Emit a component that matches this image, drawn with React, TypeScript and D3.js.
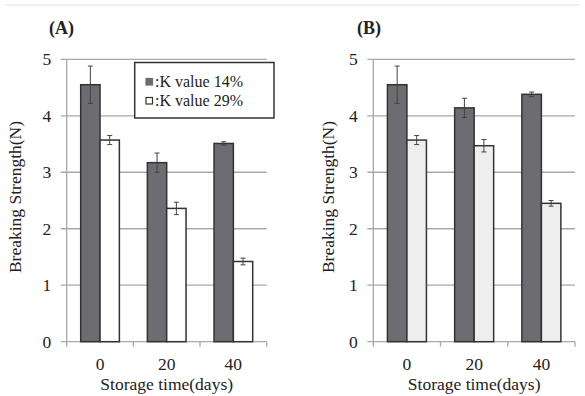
import React from "react";
import * as d3 from "d3";

const categories = ["0", "20", "40"];
const seriesNames = ["K value 14%", "K value 29%"];
const aDark = [4.55, 3.17, 3.51];
const aDarkErr = [0.33, 0.17, 0.03];
const aLight = [3.57, 2.36, 1.42];
const aLightErr = [0.08, 0.11, 0.06];
const bDark = [4.55, 4.14, 4.38];
const bDarkErr = [0.33, 0.17, 0.04];
const bLight = [3.57, 3.47, 2.45];
const bLightErr = [0.08, 0.11, 0.05];
const yTicks = [0, 1, 2, 3, 4, 5];

const FONT = "Liberation Serif";

type PanelProps = {
  x0: number;
  x1: number;
  title: string;
  titleX: number;
  labelX: number;
  dark: number[];
  darkErr: number[];
  light: number[];
  lightErr: number[];
  lightFill: string;
  legend?: boolean;
};

function Panel(p: PanelProps) {
  const y = d3.scaleLinear().domain([0, 5]).range([341.7, 59.3]);
  const x = d3.scaleBand().domain(categories).range([p.x0, p.x1]).paddingInner(0).paddingOuter(0);
  const bw = x.bandwidth() * 0.29;
  const series = [
    { vals: p.dark, errs: p.darkErr, fill: "#6c6c71" },
    { vals: p.light, errs: p.lightErr, fill: p.lightFill },
  ];
  return (
    <g>
      <text x={p.titleX} y={34} fontFamily={FONT} fontWeight="bold" fontSize={18} fill="#222">
        {p.title}
      </text>
      {yTicks.map((t) => (
        <g key={t}>
          <line x1={p.x0 - 6} x2={p.x1} y1={y(t)} y2={y(t)} stroke="#a8a8a8" strokeWidth={1.3} />
          <text x={p.x0 - 15.5} y={y(t) + 6} textAnchor="end" fontFamily={FONT} fontSize={17.5} fill="#222">
            {t}
          </text>
        </g>
      ))}
      <line x1={p.x0} x2={p.x0} y1={y(5)} y2={y(0)} stroke="#a8a8a8" strokeWidth={1.3} />
      {[...categories.map((c) => x(c) as number), p.x1].map((v, i) => (
        <line key={i} x1={v} x2={v} y1={y(0)} y2={y(0) + 5} stroke="#a8a8a8" strokeWidth={1.3} />
      ))}
      {categories.map((c, i) => {
        const cx = (x(c) as number) + x.bandwidth() / 2;
        return (
          <g key={c}>
            {series.map((s, k) => {
              const bx = cx - bw + k * bw;
              const top = y(s.vals[i]);
              const mid = bx + bw / 2;
              const e1 = y(s.vals[i] + s.errs[i]);
              const e2 = y(s.vals[i] - s.errs[i]);
              return (
                <g key={k}>
                  <rect x={bx} y={top} width={bw} height={y(0) - top} fill={s.fill} stroke="#333" strokeWidth={1.5} />
                  <line x1={mid} x2={mid} y1={e1} y2={e2} stroke="#444" strokeWidth={1} />
                  <line x1={mid - 2.5} x2={mid + 2.5} y1={e1} y2={e1} stroke="#444" strokeWidth={1} />
                  <line x1={mid - 2.5} x2={mid + 2.5} y1={e2} y2={e2} stroke="#444" strokeWidth={1} />
                </g>
              );
            })}
            <text x={cx} y={370} textAnchor="middle" fontFamily={FONT} fontSize={17.5} fill="#222">
              {c}
            </text>
          </g>
        );
      })}
      <text x={(p.x0 + p.x1) / 2} y={390} textAnchor="middle" fontFamily={FONT} fontSize={17.5} fill="#222">
        Storage time(days)
      </text>
      <text
        transform={`translate(${p.labelX},197) rotate(-90)`}
        textAnchor="middle"
        fontFamily={FONT}
        fontSize={17.5}
        fill="#222"
      >
        Breaking Strength(N)
      </text>
      {p.legend && (
        <g>
          <rect x={134.7} y={62.5} width={139.3} height={55.5} fill="#fff" stroke="#333" strokeWidth={1.5} />
          {seriesNames.map((n, k) => (
            <g key={n}>
              <rect
                x={146}
                y={78.5 + k * 19}
                width={6.5}
                height={6.5}
                fill={k === 0 ? "#6c6c71" : "#fff"}
                stroke={k === 0 ? "#6c6c71" : "#333"}
                strokeWidth={1.2}
              />
              <text x={155} y={87 + k * 18.5} fontFamily={FONT} fontSize={16} fill="#222">
                :{n}
              </text>
            </g>
          ))}
        </g>
      )}
    </g>
  );
}

export default function App() {
  return (
    <svg width={585} height={396} style={{ position: "absolute", left: 0, top: 0, background: "#fff" }}>
      <line x1={5} x2={580} y1={5} y2={5} stroke="#e2e2e2" strokeWidth={1} />
      <Panel
        x0={66.7}
        x1={266.7}
        title="(A)"
        titleX={49}
        labelX={21}
        dark={aDark}
        darkErr={aDarkErr}
        light={aLight}
        lightErr={aLightErr}
        lightFill="#ffffff"
        legend
      />
      <Panel
        x0={373.3}
        x1={575}
        title="(B)"
        titleX={357}
        labelX={334}
        dark={bDark}
        darkErr={bDarkErr}
        light={bLight}
        lightErr={bLightErr}
        lightFill="#eeeeee"
      />
    </svg>
  );
}
